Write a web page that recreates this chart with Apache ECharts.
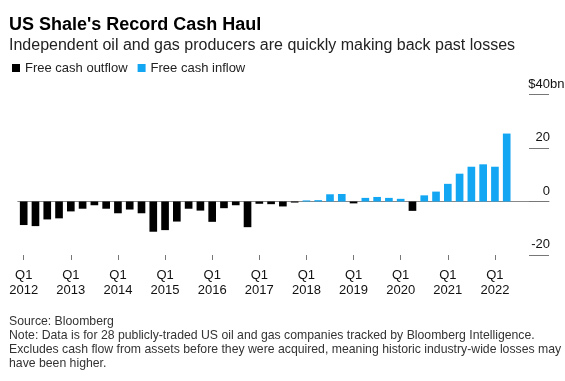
<!DOCTYPE html>
<html>
<head>
<meta charset="utf-8">
<script src="https://cdn.jsdelivr.net/npm/echarts@6/dist/echarts.min.js"></script>
<style>
html,body{margin:0;padding:0;background:#fff;}
#chart{width:565px;height:381px;}
</style>
</head>
<body>
<div id="chart"></div>
<script>
// ---- data ----
const categories = [
  'Q1 2012','Q2 2012','Q3 2012','Q4 2012',
  'Q1 2013','Q2 2013','Q3 2013','Q4 2013',
  'Q1 2014','Q2 2014','Q3 2014','Q4 2014',
  'Q1 2015','Q2 2015','Q3 2015','Q4 2015',
  'Q1 2016','Q2 2016','Q3 2016','Q4 2016',
  'Q1 2017','Q2 2017','Q3 2017','Q4 2017',
  'Q1 2018','Q2 2018','Q3 2018','Q4 2018',
  'Q1 2019','Q2 2019','Q3 2019','Q4 2019',
  'Q1 2020','Q2 2020','Q3 2020','Q4 2020',
  'Q1 2021','Q2 2021','Q3 2021','Q4 2021',
  'Q1 2022','Q2 2022'
];
const outflow = [
  -8.8, -9.2, -6.7, -6.3,
  -3.7, -2.7, -1.4, -2.7,
  -4.4, -3.0, -4.4, -11.3,
  -10.7, -7.5, -2.7, -3.4,
  -7.6, -2.5, -1.4, -9.6,
  -0.85, -1.0, -1.85, -0.4,
  null, null, null, null,
  -0.7, null, null, null,
  null, -3.5, null, null,
  null, null, null, null,
  null, null
];
const inflow = [
  null, null, null, null,
  null, null, null, null,
  null, null, null, null,
  null, null, null, null,
  null, null, null, null,
  null, null, null, null,
  0.4, 0.5, 2.7, 2.8,
  null, 1.35, 1.7, 1.35,
  1.0, null, 2.3, 3.7,
  6.6, 10.4, 13.0, 13.9,
  13.0, 25.4
];
const yTicks = [-20, 0, 20, 40];
const yUnit = 'bn';
const seriesNames = ['Free cash outflow', 'Free cash inflow'];
const titleText = "US Shale's Record Cash Haul";
const subtitleText = 'Independent oil and gas producers are quickly making back past losses';
const footerText = [
  'Source: Bloomberg',
  'Note: Data is for 28 publicly-traded US oil and gas companies tracked by Bloomberg Intelligence.',
  'Excludes cash flow from assets before they were acquired, meaning historic industry-wide losses may',
  'have been higher.'
];

// ---- chart ----
const FONT = '"Liberation Sans", Arial, sans-serif';
const GRID_TOP = 94.5, GRID_H = 160.5;
const LABEL_RIGHT = 550;
const chart = echarts.init(document.getElementById('chart'), null, {renderer: 'canvas'});
const option = {
  animation: false,
  backgroundColor: '#fff',
  textStyle: {fontFamily: FONT},
  title: [
    {text: titleText, left: 9, top: 16, padding: 0,
     textStyle: {fontSize: 18, fontWeight: 'bold', color: '#000', fontFamily: FONT}},
    {text: subtitleText, left: 9, top: 38, padding: 0,
     textStyle: {fontSize: 16, fontWeight: 'normal', color: '#222', fontFamily: FONT}},
    {text: footerText.join('\n'), left: 9, top: 315, padding: 0,
     textStyle: {fontSize: 12.25, lineHeight: 13.9, fontWeight: 'normal', color: '#333', fontFamily: FONT}}
  ],
  legend: {
    left: 12, top: 61.5, padding: 0, icon: 'rect', itemWidth: 8, itemHeight: 8, itemGap: 10,
    textStyle: {fontSize: 13, color: '#222', fontFamily: FONT},
    data: seriesNames
  },
  grid: [
    {left: 17.8, width: 494.8, top: GRID_TOP, height: GRID_H},
    {left: 17.8, right: 16, top: GRID_TOP, height: GRID_H}
  ],
  xAxis: [
    {
      type: 'category', gridIndex: 0, data: categories, position: 'bottom',
      axisLine: {show: false, onZero: false},
      axisTick: {show: true, alignWithLabel: true, interval: 3, length: 5, lineStyle: {color: '#777'}},
      axisLabel: {
        interval: 3, margin: 13, fontSize: 13, lineHeight: 15, color: '#111', fontFamily: FONT,
        formatter: v => v.replace(' ', '\n')
      },
      splitLine: {show: false}
    },
    {
      type: 'value', gridIndex: 1, min: 0, max: 1,
      axisLine: {show: true, onZero: true, lineStyle: {color: '#888', width: 1}},
      axisTick: {show: false}, axisLabel: {show: false}, splitLine: {show: false}
    }
  ],
  yAxis: [
    {
      type: 'value', gridIndex: 0, position: 'right', offset: 16.4,
      min: yTicks[0], max: yTicks[yTicks.length - 1], interval: 20,
      axisLine: {show: false},
      axisTick: {show: true, length: 20, lineStyle: {color: '#777'}},
      splitLine: {show: false},
      axisLabel: {
        margin: 21, align: 'right', verticalAlign: 'bottom', padding: [0, 0, 4, 0],
        fontSize: 13, lineHeight: 13, color: '#111', fontFamily: FONT,
        formatter: v => v === yTicks[yTicks.length - 1] ? '$' + v : String(v)
      }
    },
    {
      type: 'value', gridIndex: 1, min: yTicks[0], max: yTicks[yTicks.length - 1], show: false
    }
  ],
  series: [
    {
      name: seriesNames[0], type: 'bar', stack: 'cash', xAxisIndex: 0, yAxisIndex: 0,
      data: outflow, barCategoryGap: '35%', itemStyle: {color: '#000'}
    },
    {
      name: seriesNames[1], type: 'bar', stack: 'cash', xAxisIndex: 0, yAxisIndex: 0,
      data: inflow, barCategoryGap: '35%', itemStyle: {color: '#13a6f3'}
    }
  ]
};
chart.setOption(option);
// unit suffix after the top tick label ("$40" + "bn")
const topY = chart.convertToPixel({yAxisIndex: 0}, yTicks[yTicks.length - 1]);
chart.setOption({
  graphic: [{
    type: 'text', silent: true,
    style: {
      text: yUnit, x: LABEL_RIGHT, y: topY - 4, align: 'left', verticalAlign: 'bottom',
      font: '13px ' + FONT, lineHeight: 13, fill: '#111'
    }
  }]
});
</script>
</body>
</html>
